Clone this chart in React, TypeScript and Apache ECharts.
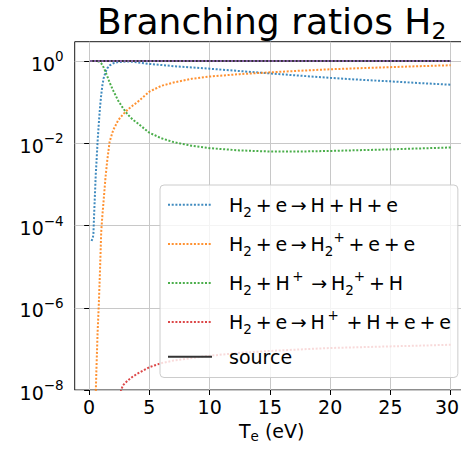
import React, { useEffect, useRef } from 'react';
import * as echarts from 'echarts';

// Electron temperature grid (eV)
const TE = [0.1, 0.2, 0.3, 0.35, 0.4, 0.45, 0.5, 0.55, 0.6, 0.7, 0.8, 0.9, 1.0, 1.1, 1.2, 1.35, 1.5, 1.7, 2.0, 2.4, 2.8, 3.2, 3.6, 4, 5, 6, 7, 8.5, 10, 12.5, 15, 17.5, 20, 22.5, 25, 27.5, 30];

// H2 + e -> H + H + e
const DISSOCIATION = [null, 4.2e-5, 5e-5, 6e-5, 1.5e-4, 3.5e-4, 8e-4, 1.8e-3, 3.2e-3, 0.011, 0.03, 0.075, 0.15, 0.26, 0.38, 0.53, 0.66, 0.78, 0.88, 0.94, 0.965, 0.97, 0.96, 0.93, 0.85, 0.8, 0.75, 0.7, 0.65, 0.57, 0.5, 0.44, 0.39, 0.35, 0.32, 0.29, 0.265];
// H2 + e -> H2+ + e + e
const IONISATION = [null, null, null, null, null, 1e-10, 1e-9, 9e-9, 3e-8, 2.5e-7, 1.2e-6, 8e-6, 7e-5, 1.8e-4, 4e-4, 1.4e-3, 3.8e-3, 0.011, 0.021, 0.036, 0.05, 0.066, 0.082, 0.1, 0.18, 0.25, 0.3, 0.37, 0.42, 0.48, 0.53, 0.58, 0.63, 0.67, 0.71, 0.75, 0.79];
// H2 + H+ -> H2+ + H
const CHARGE_EXCHANGE = [0.9999, 0.9999, 0.9998, 0.9997, 0.9995, 0.999, 0.998, 0.996, 0.993, 0.985, 0.97, 0.94, 0.88, 0.8, 0.7, 0.55, 0.43, 0.3, 0.19, 0.11, 0.072, 0.05, 0.038, 0.031, 0.018, 0.0132, 0.0107, 0.0087, 0.0076, 0.0067, 0.0063, 0.0063, 0.0065, 0.0068, 0.0071, 0.0075, 0.0079];
// H2 + e -> H+ + H + e + e
const DISSOCIATIVE_IONISATION = [null, null, null, null, null, null, null, null, null, null, null, null, null, null, null, null, null, 1e-11, 3e-10, 6e-9, 1.3e-8, 1.7e-8, 2.1e-8, 2.5e-8, 3.6e-8, 4.5e-8, 5.2e-8, 6e-8, 6.8e-8, 8e-8, 8.9e-8, 9.7e-8, 1.05e-7, 1.1e-7, 1.15e-7, 1.2e-7, 1.26e-7];
const SOURCE = TE.map(() => 1);
const TOTAL = TE.map(() => 1);

const X_TICKS = [0, 5, 10, 15, 20, 25, 30];
const Y_TICKS = [1e-8, 1e-6, 1e-4, 1e-2, 1];

const SP = '\u2009';
const SERIES_NAMES = ['diss', 'ion', 'cx', 'dission', 'source'];
const LEGEND_LABELS: Record<string, string> = {
  diss: `{p| }{b|H}{sub|2}{b|${SP}+${SP}e${SP}→${SP}H${SP}+${SP}H${SP}+${SP}e}`,
  ion: `{p| }{b|H}{sub|2}{b|${SP}+${SP}e${SP}→${SP}H}{sub|2}{sup|+}{b|${SP}+${SP}e${SP}+${SP}e}`,
  cx: `{p| }{b|H}{sub|2}{b|${SP}+${SP}H}{sup|${SP}+}{b|${SP}${SP}→${SP}H}{sub|2}{sup|+}{b|${SP}+${SP}H}`,
  dission: `{p| }{b|H}{sub|2}{b|${SP}+${SP}e${SP}→${SP}H}{sup|${SP}+}{b|${SP}${SP}+${SP}H${SP}+${SP}e${SP}+${SP}e}`,
  source: '{p| }{b|source}',
};

const FONT = 'DejaVu Sans';
const COLORS = ['#1f77b4', '#ff7f0e', '#2ca02c', '#d62728'];

const pairs = (vals: (number | null)[]) => TE.map((t, i) => [t, vals[i]]);

const dotted = (name: string, color: string, vals: (number | null)[]) => ({
  name,
  type: 'line',
  data: pairs(vals),
  symbol: 'none',
  clip: true,
  lineStyle: { color, width: 2, type: [2, 1.7], opacity: 0.85 },
  itemStyle: { color },
});

const richLegend = {
  p: { width: 12, fontSize: 19, lineHeight: 28 },
  b: { fontFamily: FONT, fontSize: 19, lineHeight: 28, color: '#000' },
  sub: { fontFamily: FONT, fontSize: 13.5, lineHeight: 17, verticalAlign: 'bottom', color: '#000' },
  sup: { fontFamily: FONT, fontSize: 13.5, lineHeight: 17, verticalAlign: 'top', color: '#000' },
};

export default function App() {
  const ref = useRef<HTMLDivElement>(null);
  useEffect(() => {
    if (!ref.current) return;
    const chart = echarts.init(ref.current, null, { renderer: 'svg' });
    chart.setOption({
      animation: false,
      backgroundColor: '#fff',
      grid: {
        left: 74.7,
        top: 41.7,
        right: -7.7,
        bottom: 62,
        outerBoundsMode: 'none',
        containLabel: false,
        show: true,
        borderColor: '#1a1a1a',
        borderWidth: 1,
        backgroundColor: 'transparent',
      },
      graphic: [
        {
          type: 'text',
          z: 10,
          style: {
            x: 271.7,
            y: 0.5,
            align: 'center',
            verticalAlign: 'top',
            text: '{a|Branching ratios H}{s|2}',
            rich: {
              a: { fontFamily: FONT, fontSize: 36, lineHeight: 42, color: '#000' },
              s: { fontFamily: FONT, fontSize: 23.5, lineHeight: 26, verticalAlign: 'bottom', color: '#000' },
            },
          },
        },
      ],
      xAxis: {
        type: 'value',
        min: -1.2,
        max: 31.5,
        name: '{b|T}{s|e}{b| (eV)}',
        nameLocation: 'middle',
        nameGap: 29,
        nameTextStyle: {
          rich: {
            b: { fontFamily: FONT, fontSize: 19, lineHeight: 24, color: '#000' },
            s: { fontFamily: FONT, fontSize: 13.5, lineHeight: 15, verticalAlign: 'bottom', color: '#000' },
          },
        },
        axisLine: { show: false },
        axisTick: { show: true, length: 5, lineStyle: { color: '#000', width: 1 }, customValues: X_TICKS },
        axisLabel: {
          customValues: X_TICKS,
          margin: 7,
          formatter: (v: number) => (v === 30 ? `{e|${v}}` : `{n|${v}}`),
          rich: {
            n: { fontFamily: FONT, fontSize: 19, color: '#000' },
            e: { fontFamily: FONT, fontSize: 19, color: '#000', padding: [0, 7, 0, 0] },
          },
        },
        splitLine: { show: true, lineStyle: { color: '#c8c8c8', width: 1 } },
      },
      yAxis: {
        type: 'log',
        logBase: 100,
        min: 1e-8,
        max: 2.95,
        axisLine: { show: false },
        axisTick: { show: true, length: 5, lineStyle: { color: '#000', width: 1 }, customValues: Y_TICKS },
        axisLabel: {
          customValues: Y_TICKS,
          margin: 11,
          formatter: (v: number) => {
            const e = Math.round(Math.log10(v));
            return `{b|10}{s|${e === 0 ? '0' : '−' + Math.abs(e)}}`;
          },
          rich: {
            b: { fontFamily: FONT, fontSize: 19, lineHeight: 24, verticalAlign: 'bottom', color: '#000' },
            s: { fontFamily: FONT, fontSize: 13.5, lineHeight: 15, verticalAlign: 'top', color: '#000' },
          },
        },
        splitLine: { show: true, lineStyle: { color: '#c8c8c8', width: 1 } },
      },
      legend: {
        data: SERIES_NAMES,
        orient: 'vertical',
        left: 160,
        top: 185,
        itemWidth: 44,
        itemHeight: 14,
        itemGap: 11.1,
        padding: [10.3, 7, 11.3, 7],
        backgroundColor: 'rgba(255,255,255,0.8)',
        borderColor: '#cccccc',
        borderWidth: 1,
        borderRadius: 4,
        itemStyle: { opacity: 0 },
        formatter: (name: string) => LEGEND_LABELS[name],
        textStyle: { fontFamily: FONT, fontSize: 19, color: '#000', rich: richLegend },
      },
      series: [
        dotted('diss', COLORS[0], DISSOCIATION),
        dotted('ion', COLORS[1], IONISATION),
        dotted('cx', COLORS[2], CHARGE_EXCHANGE),
        dotted('dission', COLORS[3], DISSOCIATIVE_IONISATION),
        {
          name: 'source',
          type: 'line',
          data: pairs(SOURCE),
          symbol: 'none',
          lineStyle: { color: '#333', width: 2, type: 'solid' },
          itemStyle: { color: '#333' },
        },
        {
          name: 'total',
          type: 'line',
          data: pairs(TOTAL),
          symbol: 'none',
          lineStyle: { color: '#9467bd', width: 2, type: [2, 1.7], opacity: 0.85 },
          itemStyle: { color: '#9467bd' },
        },
      ],
    });
    return () => chart.dispose();
  }, []);
  return (
    <div
      ref={ref}
      style={{ position: 'absolute', left: 0, top: 0, width: 461, height: 452, overflow: 'hidden' }}
    />
  );
}
